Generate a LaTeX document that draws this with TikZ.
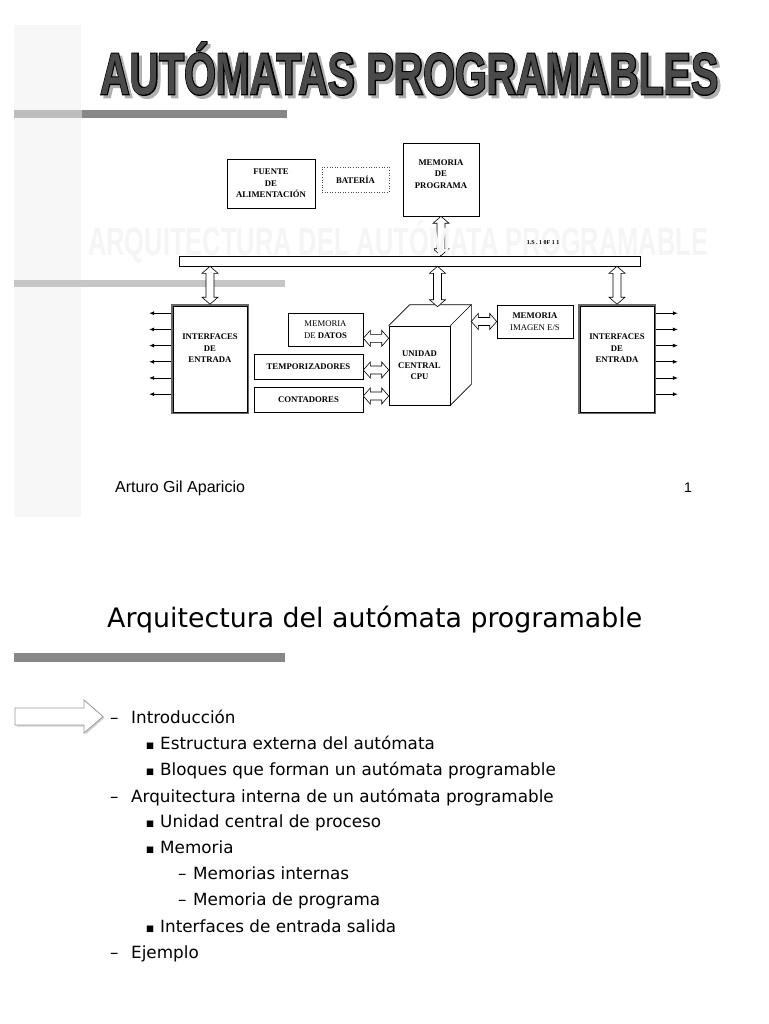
\documentclass[tikz,border=0pt]{standalone}
\usepackage{fontspec}
\setmainfont{Liberation Serif}
\newfontfamily\arial{Liberation Sans}
\newfontfamily\titlefont{Liberation Sans}
\newfontfamily\titleout{Liberation Sans}[BoldFeatures={FakeBold=4}]
\newfontfamily\comic{DejaVu Sans}
\usetikzlibrary{arrows.meta,shadows,calc}
\definecolor{colgray}{HTML}{F7F7F7}
\definecolor{barlight}{HTML}{BDBDBD}
\definecolor{bardark}{HTML}{878787}
\definecolor{bartwo}{HTML}{C6C6C6}
\definecolor{titlegray}{HTML}{4A4A4A}
\definecolor{shadowgray}{HTML}{B0B0B0}
\definecolor{wmgray}{HTML}{F5F5F5}
\definecolor{ptrgray}{HTML}{9A9A9A}
\newcommand\boxfont{\fontsize{8.7}{11.5}\selectfont\bfseries}
\newcommand\lifted[2]{\raisebox{0pt}[\height][\dimexpr\depth+#1\relax]{\begin{tabular}{@{}c@{}}#2\end{tabular}}}
\newcommand\ttltext{AUTÓMATAS PROGRAMABLES}
\newcommand\wmtext{ARQUITECTURA DEL AUTÓMATA PROGRAMABLE}
% hollow double-headed arrow between two named coordinates
\newcommand\dblarrow[2]{%
  \coordinate (da@p) at ($(#1)!7pt!(#2)$);
  \coordinate (da@q) at ($(#2)!7pt!(#1)$);
  \draw[hollow] (#1)
    -- ($(da@p)!8pt!90:(#2)$) -- ($(da@p)!4pt!90:(#2)$)
    -- ($(da@q)!4pt!-90:(#1)$) -- ($(da@q)!8pt!-90:(#1)$)
    -- (#2)
    -- ($(da@q)!8pt!90:(#1)$) -- ($(da@q)!4pt!90:(#1)$)
    -- ($(da@p)!4pt!-90:(#2)$) -- ($(da@p)!8pt!-90:(#2)$)
    -- cycle;}
\begin{document}
\begin{tikzpicture}[x=1pt,y=-1pt,
  box/.style={draw, line width=0.6pt, fill=white, inner sep=1pt, align=center, font=\boxfont},
  hollow/.style={draw, line width=0.6pt, fill=white, line join=miter},
  sarrow/.style={line width=0.7pt, -{Latex[length=5pt,width=4pt]}},
  ifbox/.style={draw=black!60, line width=1.6pt, fill=white, inner sep=1pt, align=center, font=\boxfont, minimum width=76pt, minimum height=108pt},
  ifinner/.style={draw=black, line width=0.5pt},
  li/.style={anchor=base west, inner sep=0pt, font=\comic\fontsize{16.8}{17}\selectfont},
  mk/.style={anchor=base west, inner sep=0pt, font=\comic\fontsize{16.8}{17}\selectfont},
  sq/.style={anchor=base west, inner sep=0pt, font=\comic\fontsize{8.5}{8.5}\selectfont}]
\useasboundingbox (0,0) rectangle (768,1024);
\fill[white] (0,0) rectangle (768,1024);
% slide 1 background
\fill[colgray] (14,25) rectangle (81,517);
\fill[barlight] (14,110) rectangle (82,118);
\fill[bardark] (82,110) rectangle (287,118);
\fill[bartwo] (14,280) rectangle (285,287);
% title
\node[inner sep=0pt, anchor=south west] (ttlshadow) at (103,98)
  {\resizebox{618pt}{52pt}{\color{shadowgray}\titleout\bfseries\ttltext}};
\node[inner sep=0pt, anchor=south west] (ttl) at (100,95)
  {\resizebox{618pt}{52pt}{\rlap{\color{black}\titleout\bfseries\ttltext}\color{titlegray}\titlefont\bfseries\ttltext}};
% diagram
\node[box, minimum width=88pt, minimum height=49pt] (fuente) at (271,183.5) {FUENTE\\DE\\ALIMENTACIÓN};
\node[box, draw=black!70, dotted, minimum width=67pt, minimum height=25pt] (bateria) at (355.5,179.5) {BATERÍA};
\node[box, minimum width=76pt, minimum height=73pt] (memprog) at (441,179.5) {\lifted{10pt}{MEMORIA\\DE\\PROGRAMA}};
\node[box, minimum width=461pt, minimum height=10pt, inner sep=0pt] (bus) at (409.5,261) {};
\node[ifbox] (intL) at (210,359) {\lifted{20pt}{INTERFACES\\DE\\ENTRADA}};
\node[ifbox] (intR) at (617,359) {\lifted{20pt}{INTERFACES\\DE\\ENTRADA}};
\draw[ifinner] ([shift={(2,2)}]intL.north west) rectangle ([shift={(-2,-2)}]intL.south east);
\draw[ifinner] ([shift={(2,2)}]intR.north west) rectangle ([shift={(-2,-2)}]intR.south east);
\node[box, minimum width=75pt, minimum height=33pt] (memdatos) at (325.5,329.5) {{\mdseries MEMORIA}\\{\mdseries DE} DATOS};
\node[box, minimum width=109pt, minimum height=25pt] (temp) at (308.5,366.5) {TEMPORIZADORES};
\node[box, minimum width=109pt, minimum height=25pt] (cont) at (308.5,399.5) {CONTADORES};
\node[box, minimum width=61pt, minimum height=79pt] (cpu) at (419.5,365.5) {UNIDAD\\CENTRAL\\CPU};
\coordinate (cbl) at ($(cpu.north west)+(21,-21)$);
\coordinate (cbr) at ($(cpu.north east)+(21,-21)$);
\coordinate (cbd) at ($(cpu.south east)+(21,-21)$);
\coordinate (ctop) at ($(cpu.north)+(18,-19)$);
\draw[line width=0.6pt] (cpu.north west) -- (cbl) -- (cbr) -- (cpu.north east);
\draw[line width=0.6pt] (cbr) -- (cbd) -- (cpu.south east);
\node[box, minimum width=76pt, minimum height=33pt] (memimg) at (535,321.5) {MEMORIA\\{\mdseries IMAGEN E/S}};
% connector end points
\coordinate (mpb) at (memprog.south |- bus.north);
\coordinate (ilb) at (intL.north |- bus.south);
\coordinate (ilt) at (intL.north);
\coordinate (ctb) at (ctop |- bus.south);
\coordinate (irb) at (intR.north |- bus.south);
\coordinate (irt) at (intR.north);
\coordinate (mps) at (memprog.south);
\coordinate (a1) at ([yshift=8pt]memdatos.south east);
\coordinate (b1) at (a1 -| cpu.west);
\coordinate (a2) at ([yshift=-3.5pt]temp.east);
\coordinate (b2) at (a2 -| cpu.west);
\coordinate (a3) at ([yshift=3.5pt]cont.east);
\coordinate (b3) at (a3 -| cpu.west);
\coordinate (a4) at (memimg.west -| cbr);
\coordinate (b4) at (memimg.west);
% hollow double arrows
\dblarrow{mps}{mpb}
\dblarrow{ilb}{ilt}
\dblarrow{ctb}{ctop}
\dblarrow{irb}{irt}
\dblarrow{a1}{b1}
\dblarrow{a2}{b2}
\dblarrow{a3}{b3}
\dblarrow{a4}{b4}
% io lines
\foreach \i in {0,...,5}{
  \coordinate (pl\i) at ([yshift={-(9+16.2*\i)*1pt}]intL.north west);
  \coordinate (pr\i) at ([yshift={-(9+16.2*\i)*1pt}]intR.north east);
  \draw[sarrow] (pl\i) -- ++(-22,0);
  \draw[sarrow] (pr\i) -- ++(22,0);
}
% watermark
\node[inner sep=0pt, anchor=base west] (wm) at (88,255)
  {\resizebox{620pt}{35pt}{\color{wmgray}\titlefont\bfseries\wmtext}};
\node[inner sep=0pt, font=\fontsize{6}{6}\selectfont\bfseries] (busl) at (543,243) {1.S . 1 0F 1 1};
% footer
\node[anchor=base west, inner sep=0pt, font=\arial\fontsize{16}{16}\selectfont] (author) at (115,492) {Arturo Gil Aparicio};
\node[anchor=base west, inner sep=0pt, font=\arial\fontsize{14}{14}\selectfont] (page) at (684,492) {1};
% slide 2
\node[anchor=base west, inner sep=0pt, font=\comic\fontsize{26.8}{27}\selectfont] (t2) at (107,627) {Arquitectura del autómata programable};
\fill[bardark] (14,653) rectangle (285,662);
\draw[ptrgray, line width=0.8pt, fill=white, drop shadow={shadow xshift=1.5pt, shadow yshift=-1.5pt, opacity=0.35}]
  (15,708) -- (84,708) -- (84,700) -- (103,716.5) -- (84,733) -- (84,725) -- (15,725) -- cycle;
\node[mk] (m1) at (110,723) {–};
\node[li] (l1) at (131,723) {Introducción};
\node[sq] (m2) at (146,748) {■};
\node[li] (l2) at (160,749) {Estructura externa del autómata};
\node[sq] (m3) at (146,774) {■};
\node[li] (l3) at (160,775) {Bloques que forman un autómata programable};
\node[mk] (m4) at (110,802) {–};
\node[li] (l4) at (131,802) {Arquitectura interna de un autómata programable};
\node[sq] (m5) at (146,826) {■};
\node[li] (l5) at (160,827) {Unidad central de proceso};
\node[sq] (m6) at (146,852) {■};
\node[li] (l6) at (160,853) {Memoria};
\node[mk] (m7) at (178,879) {–};
\node[li] (l7) at (193,879) {Memorias internas};
\node[mk] (m8) at (178,905) {–};
\node[li] (l8) at (193,905) {Memoria de programa};
\node[sq] (m9) at (146,931) {■};
\node[li] (l9) at (160,932) {Interfaces de entrada salida};
\node[mk] (m10) at (110,958) {–};
\node[li] (l10) at (131,958) {Ejemplo};
\end{tikzpicture}
\end{document}
